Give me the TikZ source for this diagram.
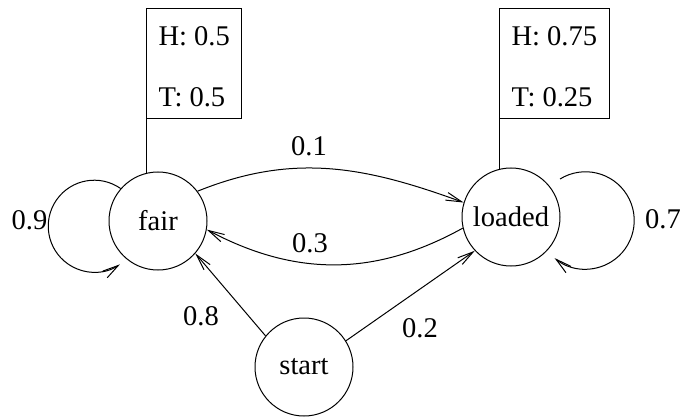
\documentclass[tikz,border=0pt]{standalone}
\usepackage{fontspec}
\setmainfont{Liberation Serif}
\usetikzlibrary{arrows.meta}
\begin{document}
\begin{tikzpicture}[x=0.75pt,y=0.75pt,
  every node/.style={font=\fontsize{21.4}{25}\selectfont},
  state/.style={draw,circle,line width=0.75pt,minimum size=73.5pt,inner sep=0pt},
  emitbox/.style={draw,rectangle,line width=0.75pt,anchor=north west,align=left,
     inner xsep=9pt,inner ysep=9pt,font=\fontsize{21.4}{45.75}\selectfont},
  edge/.style={line width=0.75pt,-{Straight Barb[length=12pt,width=6pt]}},
  plain/.style={line width=0.75pt},
  lab/.style={inner sep=0pt}]
\useasboundingbox (0,0) rectangle (681,-417);
% states
\node[state] (fair) at (158,-221) {fair};
\node[state] (loaded) at (511,-217) {loaded};
\node[state] (start) at (304,-367) {start};
% emission boxes
\node[emitbox] (fbox) at (146,-8) {\rule{0pt}{18.75pt}H: 0.5\\T: 0.5};
\node[emitbox] (lbox) at (499,-8) {\rule{0pt}{18.75pt}H: 0.75\\T: 0.25};
\draw[plain] (fbox.south west) -- (fbox.south west |- fair.104);
\draw[plain] (lbox.south west) -- (lbox.south west |- loaded.104);
% transitions
\draw[edge] (fair.37) to[out=22,in=160] (loaded.163);
\draw[edge] (loaded.193) to[out=209,in=-28] (fair.-10);
\draw[edge] (start.141) -- (fair.-41);
\draw[edge] (start.32) -- (loaded.-137);
% self loops
\draw[edge] (fair.139) arc[start angle=55,end angle=304,radius=46];
\coordinate (lstart) at (560,-179);
\draw[edge] (lstart) arc[start angle=121.6,end angle=-129.5,radius=48.7];
% labels
\node[lab] (l09) at (29.5,-220) {0.9};
\node[lab] (l07) at (663,-219) {0.7};
\node[lab] (l01) at (309,-146) {0.1};
\node[lab] (l03) at (310,-243) {0.3};
\node[lab] (l08) at (201,-316) {0.8};
\node[lab] (l02) at (420,-328) {0.2};
\end{tikzpicture}
\end{document}
